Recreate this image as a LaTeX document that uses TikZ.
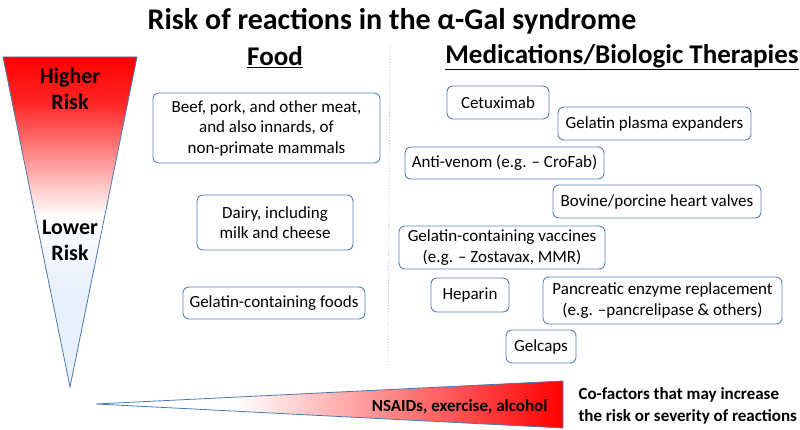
\documentclass[tikz,border=0pt]{standalone}
\usepackage{fontspec}
\setmainfont{Carlito}
\usetikzlibrary{positioning}

\definecolor{edgeblue}{RGB}{74,120,176}
\definecolor{boxblue}{RGB}{88,130,180}
\definecolor{lowblue}{RGB}{232,240,251}
\definecolor{dotblue}{RGB}{157,195,230}

\pgfdeclareverticalshading{riskfade}{100bp}{color(0bp)=(lowblue); color(40bp)=(lowblue); color(51bp)=(white); color(68bp)=(red!85); color(75bp)=(red); color(100bp)=(red)}
\pgfdeclarehorizontalshading{cofade}{100bp}{color(0bp)=(white); color(40bp)=(white); color(75bp)=(red); color(100bp)=(red)}

\tikzset{
  itembox/.style={draw=boxblue, line width=0.9pt, rounded corners=6pt, align=center, inner sep=0pt,
    font=\fontsize{17}{20.5}\selectfont},
  heading/.style={font=\fontsize{27}{30}\selectfont\bfseries},
  risklabel/.style={align=center, font=\fontsize{22}{26}\selectfont\bfseries}
}

\begin{document}
\begin{tikzpicture}[x=1pt,y=-1pt]
    \useasboundingbox (0,0) rectangle (800,430);

    \node(title) at (392,21){\fontsize{30}{34}\selectfont\bfseries Risk of reactions in the α-Gal syndrome};

    % risk funnel
    \coordinate(f1) at (3,57);
    \coordinate(f2) at (137,57);
    \coordinate(f3) at (70,387);
    \draw[color=edgeblue, thick, shading=riskfade] (f1) -- (f2) -- (f3) -- cycle;
    \node[risklabel](higher) at (70,89){Higher\\Risk};
    \node[risklabel](lower) at (70,240){Lower\\Risk};

    % food
    \node[heading](food) at (275,57){\underline{Food}};
    \node[itembox, minimum width=227, minimum height=70](beef) at (266.5,128){Beef, pork, and other meat,\\and also innards, of\\non-primate mammals};
    \node[itembox, minimum width=156, minimum height=55](dairy) at (275,222.5){Dairy, including\\milk and cheese};
    \node[itembox, minimum width=182, minimum height=32](gelfood) at (274,303){Gelatin-containing foods};

    \coordinate(d1) at (390,45);
    \coordinate(d2) at (388,365);
    \draw[color=dotblue, dotted, thick] (d1) -- (d2);

    % medications
    \node[heading](meds) at (622,57){\underline{Medications/Biologic Therapies}};
    \node[itembox, minimum width=102, minimum height=33](cetux) at (498,102.5){Cetuximab};
    \node[itembox, minimum width=193, minimum height=33](plasma) at (654.5,123.5){Gelatin plasma expanders};
    \node[itembox, minimum width=199, minimum height=32](venom) at (504.5,163){Anti-venom (e.g. – CroFab)};
    \node[itembox, minimum width=208, minimum height=33](valves) at (657,201.5){Bovine/porcine heart valves};
    \node[itembox, minimum width=206, minimum height=43](vaccines) at (502,247.5){Gelatin-containing vaccines\\(e.g. – Zostavax, MMR)};
    \node[itembox, minimum width=78, minimum height=34](heparin) at (470,295){Heparin};
    \node[itembox, minimum width=239, minimum height=47](pancreas) at (662.5,300.5){Pancreatic enzyme replacement\\(e.g. –pancrelipase \& others)};
    \node[itembox, minimum width=70, minimum height=33](gelcaps) at (541,346.5){Gelcaps};

    % co-factors
    \coordinate(w1) at (96,404);
    \coordinate(w2) at (563,381);
    \coordinate(w3) at (563,428);
    \draw[color=edgeblue, thick, shading=cofade] (w1) -- (w2) -- (w3) -- cycle;
    \node[anchor=east, font=\fontsize{17}{20}\selectfont\bfseries](nsaids) at (551,407){NSAIDs, exercise, alcohol};
    \node[anchor=west, align=left, font=\fontsize{17}{22}\selectfont\bfseries](cofactors) at (575,406){Co-factors that may increase\\the risk or severity of reactions};

  \end{tikzpicture}
\end{document}
